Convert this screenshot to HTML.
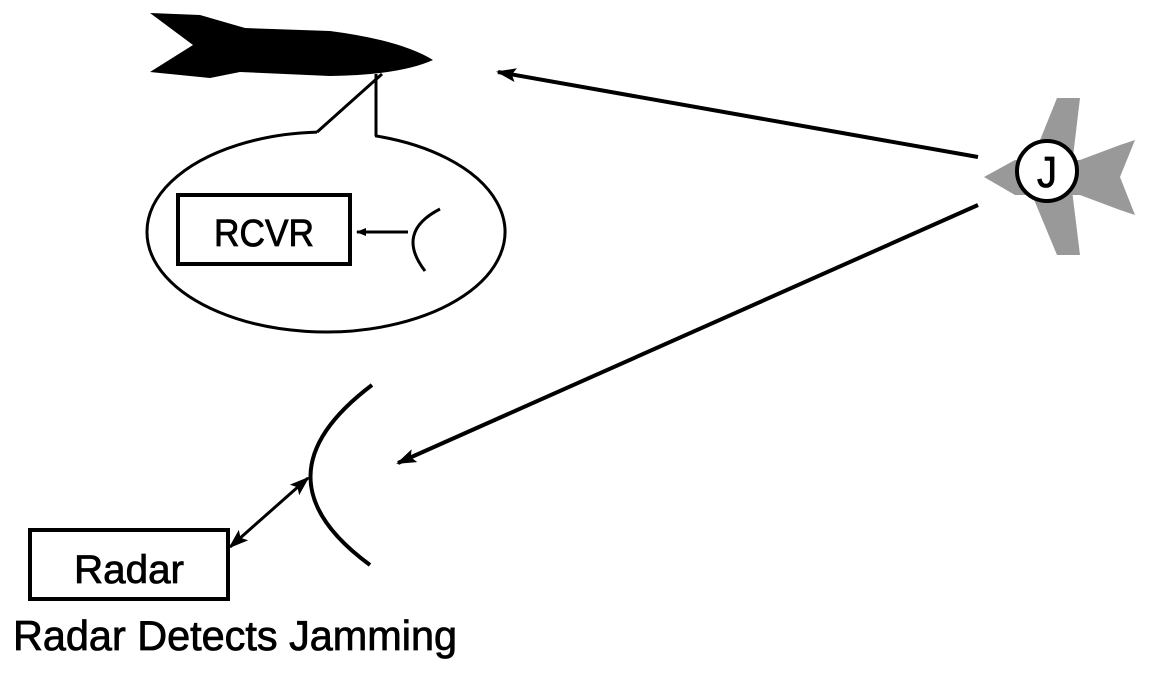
<!DOCTYPE html>
<html><head><style>html,body{margin:0;padding:0;background:#fff;}</style></head>
<body>
<svg width="1152" height="669" viewBox="0 0 1152 669" xmlns="http://www.w3.org/2000/svg" font-family="Liberation Sans, sans-serif">
<defs>
<marker id="ah" markerWidth="10" markerHeight="8" refX="9" refY="4" orient="auto" markerUnits="userSpaceOnUse">
<path d="M0,0 L10,4 L0,8 Z" fill="#000"/>
</marker>
<marker id="ahb" markerWidth="20" markerHeight="14" refX="18" refY="7" orient="auto" markerUnits="userSpaceOnUse">
<path d="M0,0 L20,7 L0,14 L4,7 Z" fill="#000"/>
</marker>
<marker id="ahs" markerWidth="20" markerHeight="14" refX="2" refY="7" orient="auto" markerUnits="userSpaceOnUse">
<path d="M20,0 L0,7 L20,14 L16,7 Z" fill="#000"/>
</marker>
</defs>
<!-- missile -->
<path d="M150,13 L200,15 L245,28 L330,31 Q400,40 433,60 Q400,75 330,76 L240,72 L210,78 L150,72 L193,45 Z" fill="#000"/>
<!-- callout -->
<path d="M375,135.8 A179,100 0 1 1 317,132.1" fill="none" stroke="#000" stroke-width="3"/>
<path d="M317,132.1 L382,74 M376,74 L376,136" fill="none" stroke="#000" stroke-width="3"/>
<rect x="178" y="195" width="172" height="69" fill="none" stroke="#000" stroke-width="4"/>
<text x="264" y="246" font-size="38" text-anchor="middle" textLength="100" lengthAdjust="spacingAndGlyphs" stroke="#000" stroke-width="0.8">RCVR</text>
<line x1="408" y1="232" x2="357" y2="232" stroke="#000" stroke-width="3" marker-end="url(#ah)"/>
<path d="M440,209 Q395,232 425,271" fill="none" stroke="#000" stroke-width="3"/>
<!-- jammer plane -->
<g fill="#999">
<path d="M984,177 L1015,160 L1080,160 L1120,145 L1135,140 L1120,177 L1135,215 L1120,210 L1080,195 L1015,195 Z"/>
<path d="M1057,98 L1080,98 L1072,165 L1030,165 Z"/>
<path d="M1030,190 L1072,190 L1080,255 L1057,255 Z"/>
</g>
<circle cx="1047" cy="171" r="30" fill="#fff" stroke="#000" stroke-width="4"/>
<text x="1047" y="187" font-size="44" text-anchor="middle" textLength="20" lengthAdjust="spacingAndGlyphs" stroke="#000" stroke-width="0.8">J</text>
<!-- arrows -->
<line x1="978" y1="157" x2="498" y2="72" stroke="#000" stroke-width="4" marker-end="url(#ahb)"/>
<line x1="978" y1="205" x2="398" y2="463" stroke="#000" stroke-width="4" marker-end="url(#ahb)"/>
<!-- radar dish -->
<path d="M372,385 Q250,477 370,565" fill="none" stroke="#000" stroke-width="4"/>
<line x1="230" y1="547" x2="308" y2="478" stroke="#000" stroke-width="3" marker-start="url(#ahs)" marker-end="url(#ahb)"/>
<rect x="30" y="530" width="198" height="69" fill="none" stroke="#000" stroke-width="4"/>
<text x="129" y="583" font-size="40" text-anchor="middle" textLength="110" lengthAdjust="spacingAndGlyphs" stroke="#000" stroke-width="0.8">Radar</text>
<text x="13" y="650" font-size="42" textLength="444" lengthAdjust="spacingAndGlyphs" stroke="#000" stroke-width="0.8">Radar Detects Jamming</text>
</svg>
</body></html>
